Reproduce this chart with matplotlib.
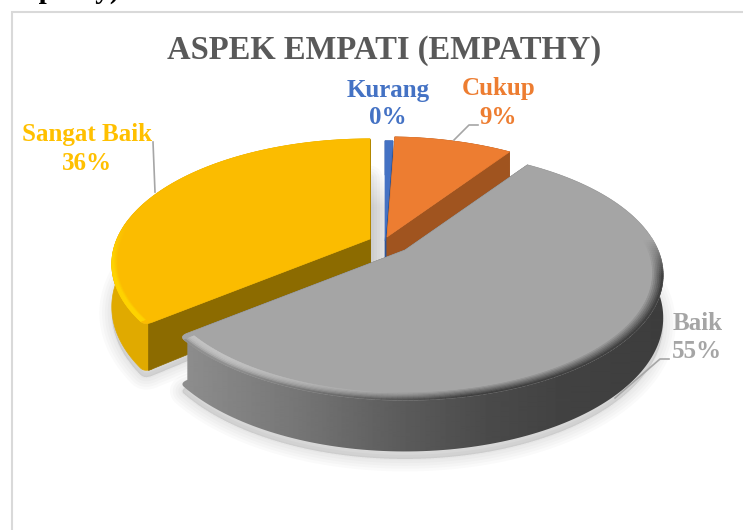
import numpy as np
import matplotlib
matplotlib.use("Agg")
import matplotlib.pyplot as plt
from matplotlib.colors import to_rgb
from matplotlib.patches import Polygon

# Data
labels = ["Kurang", "Cukup", "Baik", "Sangat Baik"]
values = [0.6, 9, 55, 36]
pct_labels = ["0%", "9%", "55%", "36%"]
colors = ["#4472C4", "#ED7D31", "#A5A5A5", "#FFC000"]
top_colors = ["#4472C4", "#ED7D31", "#A5A5A5", "#FBBC00"]
wall_colors = ["#2F5597", "#A0541F", "#5C5C5C", "#8C6B00"]

# Apex of each exploded slice, picture pixels
apex_x = [385, 387, 405, 370]
apex_y = [241, 237, 250, 239]

# Disc projection
R = 253
TILT = 0.475
PERSP = 0.2
DEPTH = 41
ROUND = 0.03


def project(i, u, v, z=0.0):
    s = 1 / (1 + PERSP * v)
    return apex_x[i] + R * u * s, apex_y[i] - R * TILT * v * s + z * s


def lerp(a, b, t):
    a, b = np.array(to_rgb(a)), np.array(to_rgb(b))
    return tuple(a + (b - a) * np.clip(t, 0, 1))


def grey_side(x):
    xs = [178, 300, 400, 490, 560, 663]
    vs = [0.56, 0.46, 0.36, 0.29, 0.26, 0.24]
    return np.interp(x, xs, vs)


fig = plt.figure(figsize=(7.43, 5.3), dpi=100)
ax = fig.add_axes([0, 0, 1, 1])
ax.axis("off")

fracs = np.array(values) / sum(values)
edges = np.concatenate([[0], np.cumsum(fracs)]) * 2 * np.pi


def rim(i):
    # Outer curve of a slice on the unit disc, the corner next to the cut
    # between grey and yellow is rounded
    a0, a1 = edges[i], edges[i + 1]
    start = a0 + ROUND if i == 3 else a0
    stop = a1 - ROUND if i == 2 else a1
    ang = np.linspace(start, stop, 160)
    u, v = np.sin(ang), np.cos(ang)
    if i in (2, 3):
        corner = edges[3]
        end = stop if i == 2 else start
        p0 = np.array([np.sin(end), np.cos(end)])
        p1 = np.array([np.sin(corner), np.cos(corner)])
        p2 = p1 * (1 - ROUND)
        t = np.linspace(0, 1, 12)[1:]
        bx = (1 - t) ** 2 * p0[0] + 2 * t * (1 - t) * p1[0] + t ** 2 * p2[0]
        by = (1 - t) ** 2 * p0[1] + 2 * t * (1 - t) * p1[1] + t ** 2 * p2[1]
        if i == 2:
            u, v = np.r_[u, bx], np.r_[v, by]
        else:
            u, v = np.r_[bx[::-1], u], np.r_[by[::-1], v]
    return u, v


def outline(i, z=0.0):
    u, v = rim(i)
    x, y = project(i, u, v, z)
    return np.r_[apex_x[i], x], np.r_[apex_y[i] + z, y]


def radial_walls(i, zorder):
    for e in [edges[i], edges[i + 1]]:
        r = 1
        if e == edges[3] and i == 3:
            r = 1 - ROUND * 0.5
        if e == edges[3] and i == 2:
            r = 1 - ROUND * 3
        cx, cy = project(i, r * np.sin(e), r * np.cos(e))
        _, cy2 = project(i, r * np.sin(e), r * np.cos(e), DEPTH)
        ax.fill([apex_x[i], cx, cx, apex_x[i]],
                [apex_y[i], cy, cy2, apex_y[i] + DEPTH],
                color=wall_colors[i], lw=0.5, zorder=zorder)


# Shadow in the gap between the slices
gap = np.linspace(0, 1, 60).reshape(-1, 1, 1)
gap_img = np.concatenate([np.full((60, 1, 3), 0.0), np.clip(gap * 2.6, 0, 1) * 0.115], axis=2)
ax.imshow(gap_img, extent=[362, 392, 262, 172], aspect="auto", zorder=1, interpolation="bilinear")

# Soft shadows below the pie
for i in [2, 3]:
    x, y = outline(i, z=DEPTH + 6)
    for lw in [18, 14, 10, 6, 2]:
        ax.fill(x, y, color="#000000", alpha=0.02, lw=lw, zorder=1, joinstyle="round")

# Back to front: blue, orange, yellow, grey
for zo, i in enumerate([0, 1, 3, 2]):
    base = 2 + zo * 3

    # yellow shows its cut in front of the outer wall, grey hides it
    radial_walls(i, base + (0.5 if i == 3 else 0))

    # outer wall
    u, v = rim(i)
    x1, y1 = project(i, u, v)
    x2, y2 = project(i, u, v, DEPTH)
    wall_x = np.r_[x1, x2[::-1]]
    wall_y = np.r_[y1, y2[::-1]]
    if i == 2:
        grad_x = np.linspace(170, 670, 500)
        grad = grey_side(grad_x).reshape(1, -1)
        im = ax.imshow(grad, cmap="gray", vmin=0, vmax=1, extent=[170, 670, 470, 150],
                       aspect="auto", zorder=base + 0.2, interpolation="bilinear")
        im.set_clip_path(Polygon(np.c_[wall_x, wall_y], transform=ax.transData))
    else:
        c = "#E0AA00" if i == 3 else wall_colors[i]
        ax.fill(wall_x, wall_y, color=c, lw=0.5, zorder=base + 0.2)

    # top face
    x, y = outline(i)
    ax.fill(x, y, color=top_colors[i], lw=0.5, zorder=base + 1)

    # bevel on the rim
    if i in (2, 3):
        steps = np.linspace(0, 1, 7)
        width = 0.04 if i == 2 else 0.02
        ang = np.linspace(edges[i] + (ROUND if i == 3 else 0),
                          edges[i + 1] - (ROUND if i == 2 else 0), 200)
        for f0, f1 in zip(steps[:-1], steps[1:]):
            r0 = 1 - width * (1 - f0)
            r1 = 1 - width * (1 - f1)
            for a, b in zip(ang[:-1], ang[1:]):
                cos_a = np.cos(a)
                if cos_a > (0.1 if i == 2 else 0.15):
                    continue
                x1, y1 = project(i, r0 * np.sin(a), r0 * np.cos(a))
                x2, y2 = project(i, r0 * np.sin(b), r0 * np.cos(b))
                x3, y3 = project(i, r1 * np.sin(b), r1 * np.cos(b))
                x4, y4 = project(i, r1 * np.sin(a), r1 * np.cos(a))
                if i == 2:
                    t = np.clip((x1 - 230) / 240, 0, 1)
                    near = lerp("#A5A5A5", "#3F3F3F", f1)
                    far = lerp("#C4C4C4", "#909090", f1 ** 3)
                    c = lerp(far, near, t)
                    c = lerp("#A5A5A5", c, (-cos_a + 0.1) / 0.3)
                else:
                    c = lerp("#FBBC00", "#FFD400", f1 * (-cos_a + 0.15) / 0.3)
                ax.fill([x1, x2, x3, x4], [y1, y2, y3, y4], color=c, lw=0.4, zorder=base + 2)

# imshow changes the limits, so they are set after it
ax.set_xlim(0, 743)
ax.set_ylim(530, 0)

# Frame
ax.plot([12, 12, 743], [530, 12, 12], color="#D9D9D9", lw=1.5, solid_joinstyle="miter")

# Text, the first line is cut by the top edge in the reference too
SERIF = "Liberation Serif"
ax.text(120, -2, "Empathy)", color="black", fontsize=21, fontweight="bold",
        family=SERIF, ha="right", va="baseline")
ax.text(384, 50, "ASPEK EMPATI (EMPATHY)", color="#595959", fontsize=23.5,
        fontweight="bold", family=SERIF, ha="center", va="center", zorder=30)

label_x = [388, 499, 698, 87]
pct_x = [388, 498, 697, 87]
name_y = [90, 89, 323, 135]
pct_y = [118, 117, 352, 163]
for name, pct, c, lx, px, ny, py in zip(labels, pct_labels, colors, label_x, pct_x, name_y, pct_y):
    ax.text(lx, ny, name, color=c, fontsize=18, fontweight="bold",
            family=SERIF, ha="center", va="center", zorder=30)
    ax.text(px, py, pct, color=c, fontsize=18, fontweight="bold",
            family=SERIF, ha="center", va="center", zorder=30)

# Leader lines
leader_x = [[153, 155], [478, 469, 454], [669, 660, 615]]
leader_y = [[142, 192], [125, 125, 140], [359, 359, 398]]
for lx, ly in zip(leader_x, leader_y):
    ax.plot(lx, ly, color="#A6A6A6", lw=1.2, zorder=30)

fig.savefig("out.png", dpi=100)
